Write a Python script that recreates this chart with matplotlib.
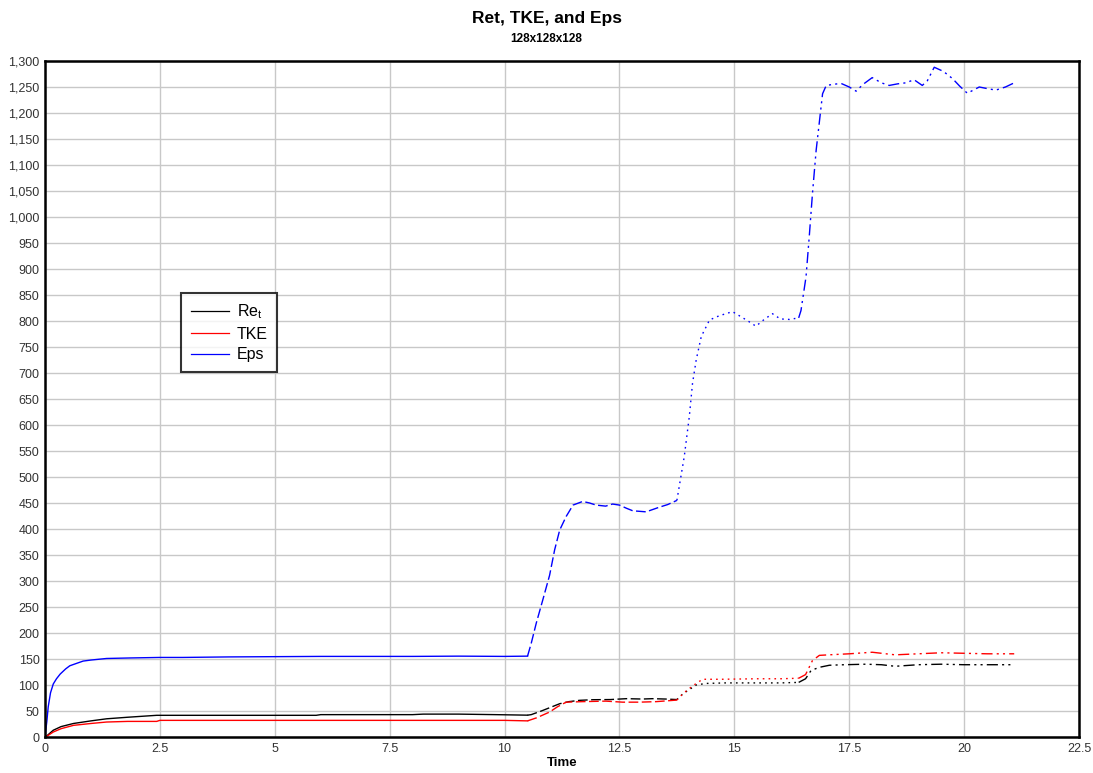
import numpy as np
import matplotlib
matplotlib.use("Agg")
import matplotlib.pyplot as plt
from matplotlib.ticker import MultipleLocator, FuncFormatter

# ---------------- data ----------------
eps_t = [0, 0.04, 0.07, 0.12, 0.18, 0.25, 0.33, 0.45, 0.54, 0.7, 0.83, 1.0, 1.34, 1.85,
         2.5, 3.0, 4.0, 5.0, 6.0, 7.0, 8.0, 9.0, 10.0, 10.5,
         10.58, 10.69, 10.83, 10.98, 11.09, 11.2, 11.34, 11.49, 11.7, 11.85, 11.99, 12.2,
         12.35, 12.5, 12.65, 12.79, 13.08, 13.37, 13.55, 13.75,
         13.91, 14.02, 14.09, 14.17, 14.28, 14.46, 14.67, 14.96, 15.28, 15.47, 15.65,
         15.83, 16.0, 16.2, 16.4,
         16.45, 16.56, 16.63, 16.7, 16.78, 16.92, 17.0, 17.15, 17.32, 17.5, 17.65, 17.8,
         18.0, 18.2, 18.37, 18.55, 18.73, 18.91, 19.09, 19.2, 19.35, 19.55, 19.75, 19.9,
         20.07, 20.2, 20.33, 20.5, 20.69, 20.9, 21.09]
eps_v = [0, 30, 58, 85, 102, 112, 121, 131, 137, 142, 146, 148, 151, 152,
         153, 153, 154, 154.5, 155, 155, 155, 155.5, 155, 155.5,
         180, 219, 263, 311, 360, 398, 424, 446, 453, 450, 446, 444,
         448, 446, 440, 435, 433, 442, 447, 455,
         539, 616, 680, 725, 770, 802, 810, 818, 801, 790, 803,
         814, 804, 803, 806,
         820, 885, 962, 1045, 1128, 1237, 1253, 1255, 1257, 1250, 1242, 1255,
         1268, 1258, 1253, 1256, 1258, 1264, 1253, 1262, 1288, 1280, 1266, 1252,
         1238, 1244, 1250, 1247, 1244, 1250, 1258]

ret_t = [0, 0.05, 0.18, 0.35, 0.62, 1.0, 1.34, 1.8, 2.43, 4.0, 5.9, 6.0, 8.0, 8.23,
         9.0, 9.8, 10.5,
         10.58, 10.8, 11.0, 11.2, 11.4, 11.63, 11.92, 12.3, 12.65, 13.0, 13.22, 13.5, 13.75,
         13.88, 14.0, 14.17, 14.38, 14.8, 15.5, 16.0, 16.4,
         16.55, 16.67, 16.85, 17.07, 17.4, 17.86, 18.2, 18.5, 19.0, 19.5, 20.0, 20.5, 21.09]
ret_v = [0, 3, 13, 20, 26, 31, 35, 38, 41.7, 41.7, 41.7, 43, 43, 44,
         44, 43, 42,
         43, 50, 57, 64, 68, 70.5, 71.7, 72, 73.7, 73, 73.7, 73, 72,
         83, 90, 100, 103, 104, 104, 104, 105,
         112, 128, 134, 138, 139, 140, 139, 136, 139, 140, 139, 139, 139]

tke_t = [0, 0.05, 0.18, 0.35, 0.62, 1.0, 1.34, 1.8, 2.43, 2.5, 5.0, 7.5, 10.0, 10.5,
         10.7, 10.98, 11.15, 11.34, 11.7, 12.2, 12.57, 12.93, 13.3, 13.75,
         13.88, 14.0, 14.17, 14.31, 14.7, 15.5, 16.0, 16.4,
         16.55, 16.7, 16.85, 17.14, 17.5, 18.0, 18.5, 19.0, 19.5, 20.0, 20.5, 21.09]
tke_v = [0, 2, 9.6, 16, 22.4, 26, 28.8, 30, 30, 32, 32, 32, 32, 31,
         37, 48, 58, 67, 68, 69, 67, 67, 68, 71,
         83, 92, 103, 111, 111, 112, 112, 113,
         120, 147, 157, 158.4, 160, 163, 158, 160, 162, 161, 160, 160]

segment_breaks = [10.5, 13.75, 16.4]

series = [
    ("Re$_\\mathregular{t}$", ret_t, ret_v, "black"),
    ("TKE", tke_t, tke_v, "red"),
    ("Eps", eps_t, eps_v, "blue"),
]

# ---------------- figure ----------------
plt.rcParams["font.family"] = ["Liberation Sans", "DejaVu Sans"]
fig = plt.figure(figsize=(10.93, 7.73), dpi=100)
ax = fig.add_axes([45 / 1093, 1 - 737 / 773, (1079 - 45) / 1093, (737 - 61) / 773])

styles = ["-", (0, (7, 2.5)), (0, (1.2, 3)), (0, (8, 3, 1.5, 3, 1.5, 3))]

for label, t, v, color in series:
    t = np.asarray(t, float)
    v = np.asarray(v, float)
    edges = [t[0]] + segment_breaks + [t[-1]]
    for k in range(4):
        m = (t >= edges[k]) & (t <= edges[k + 1])
        ax.plot(t[m], v[m], color=color, lw=1.0, ls=styles[k])
    ax.plot([], [], color=color, lw=0.9, label=label)

ax.set_xlim(0, 22.5)
ax.set_ylim(0, 1300)
ax.xaxis.set_major_locator(MultipleLocator(2.5))
ax.yaxis.set_major_locator(MultipleLocator(50))
ax.yaxis.set_major_formatter(FuncFormatter(lambda y, p: f"{int(y):,}"))
ax.xaxis.set_major_formatter(FuncFormatter(lambda x, p: f"{x:g}"))
ax.grid(True, color="#c8c8c8", lw=1.0)
ax.set_axisbelow(True)
ax.tick_params(length=0, labelsize=9, colors="#333333", pad=4)
for s in ax.spines.values():
    s.set_linewidth(1.8)
    s.set_color("black")

ax.set_xlabel("Time", fontsize=9.5, fontweight="bold", labelpad=2)

fig.text(0.5, 1 - 18 / 773, "Ret, TKE, and Eps", ha="center", va="center",
         fontsize=12.5, fontweight="bold")
fig.text(0.5, 1 - 39 / 773, "128x128x128", ha="center", va="center",
         fontsize=8.5, fontweight="bold")

leg = ax.legend(loc="upper left", bbox_to_anchor=((181 - 45) / 1034, (737 - 293) / 676),
                borderaxespad=0, fontsize=11.5, frameon=True, fancybox=False,
                handlelength=2.4, handletextpad=0.5, labelspacing=0.35,
                borderpad=0.6)
leg.get_frame().set_edgecolor("black")
leg.get_frame().set_linewidth(1.5)

fig.savefig("out.png", dpi=100)
